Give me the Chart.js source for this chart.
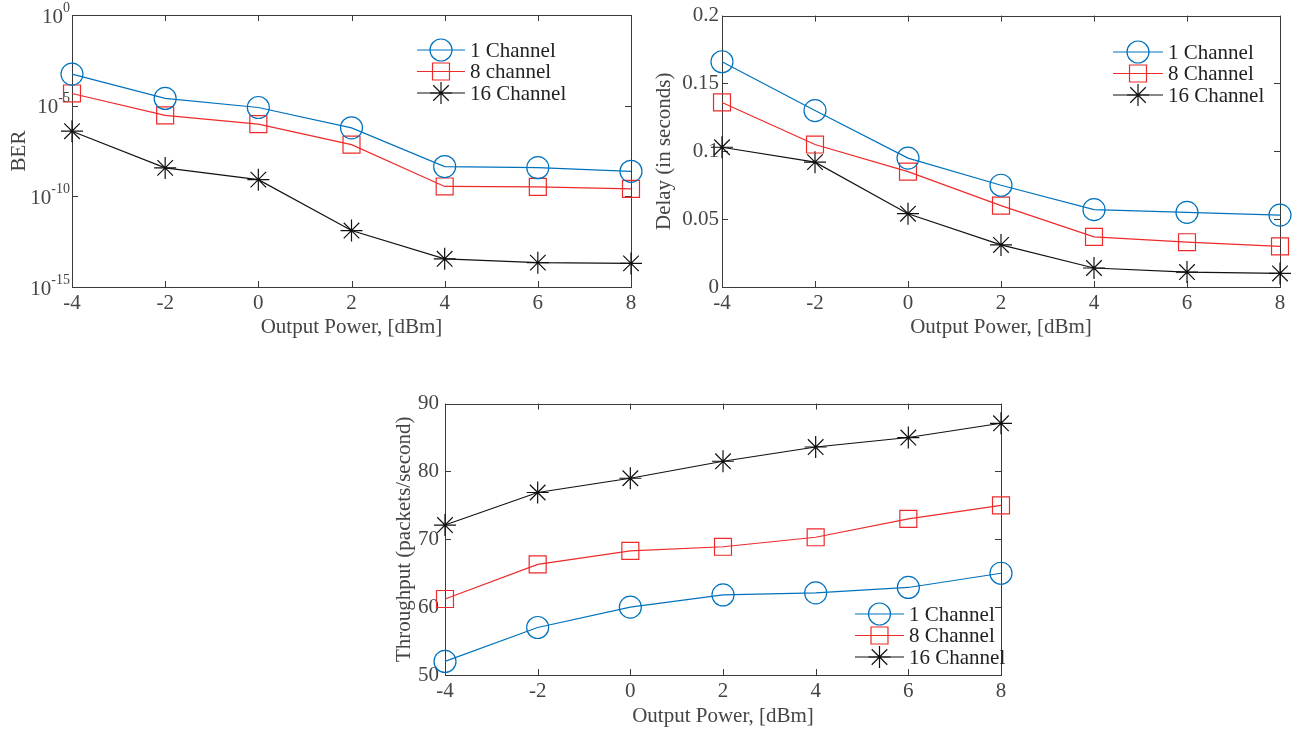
<!DOCTYPE html>
<html>
<head>
<meta charset="utf-8">
<script src="https://cdn.jsdelivr.net/npm/chart.js@4.4.1/dist/chart.umd.min.js"></script>
<style>
  html, body { margin: 0; padding: 0; background: #fff; width: 1295px; height: 729px; overflow: hidden; }
  canvas { position: absolute; }
</style>
</head>
<body>
<canvas id="berChart" width="650" height="340" style="left:0;top:0"></canvas>
<canvas id="delayChart" width="645" height="340" style="left:650px;top:0"></canvas>
<canvas id="tpChart" width="645" height="344" style="left:385px;top:385px"></canvas>
<script>
// --- data ---
const powers = [-4, -2, 0, 2, 4, 6, 8];
const xTicks = [-4, -2, 0, 2, 4, 6, 8];

const berOne = [5.5e-4, 2.5e-5, 7.9e-6, 6.0e-7, 4.4e-9, 3.8e-9, 2.4e-9];
const berEight = [4.7e-5, 2.9e-6, 9.5e-7, 7.1e-8, 3.5e-10, 3.3e-10, 2.6e-10];
const berSixteen = [3.9e-7, 3.7e-9, 8.3e-10, 1.3e-12, 3.6e-14, 2.2e-14, 2.0e-14];
const berTicks = [1, 1e-5, 1e-10, 1e-15];
const berTickExps = ['0', '-5', '-10', '-15'];

const delayOne = [0.166, 0.130, 0.095, 0.075, 0.057, 0.055, 0.053];
const delayEight = [0.136, 0.105, 0.085, 0.060, 0.037, 0.033, 0.030];
const delaySixteen = [0.103, 0.092, 0.054, 0.031, 0.014, 0.011, 0.010];
const delayTicks = [0, 0.05, 0.1, 0.15, 0.2];

const tpOne = [52, 57, 60, 61.8, 62.1, 62.9, 65];
const tpEight = [61.2, 66.3, 68.3, 68.9, 70.3, 73, 75];
const tpSixteen = [72.1, 76.9, 79, 81.5, 83.6, 85, 87.1];
const tpTicks = [50, 60, 70, 80, 90];

const FONT = "'Liberation Serif', 'DejaVu Serif', serif";
const FS = 21;
const TEXT = '#454545';
const BLUE = '#0072BD', RED = '#EE2A2A', BLACK = '#111111';

function marker(ctx, style, r, x, y) {
  ctx.beginPath();
  if (style === 'circle') {
    ctx.arc(x, y, r, 0, Math.PI * 2);
  } else if (style === 'rect') {
    const s = r * Math.SQRT1_2;
    ctx.rect(x - s, y - s, 2 * s, 2 * s);
  } else {
    for (let k = 0; k < 4; k++) {
      const a = k * Math.PI / 4;
      ctx.moveTo(x - Math.cos(a) * r, y - Math.sin(a) * r);
      ctx.lineTo(x + Math.cos(a) * r, y + Math.sin(a) * r);
    }
  }
  ctx.stroke();
}

// box + inward ticks (matlab style)
const frame = {
  id: 'frame',
  beforeDatasetsDraw(chart) {
    const { ctx, chartArea: a, scales } = chart;
    ctx.save();
    ctx.strokeStyle = '#3a3a3a';
    ctx.lineWidth = 1;
    ctx.strokeRect(Math.round(a.left) + 0.5, Math.round(a.top) + 0.5, Math.round(a.width), Math.round(a.height));
    ctx.beginPath();
    scales.x.ticks.forEach(t => {
      const px = Math.round(scales.x.getPixelForValue(t.value)) + 0.5;
      ctx.moveTo(px, a.bottom); ctx.lineTo(px, a.bottom - 6);
      ctx.moveTo(px, a.top); ctx.lineTo(px, a.top + 6);
    });
    scales.y.ticks.forEach(t => {
      const py = Math.round(scales.y.getPixelForValue(t.value)) + 0.5;
      ctx.moveTo(a.left, py); ctx.lineTo(a.left + 6, py);
      ctx.moveTo(a.right, py); ctx.lineTo(a.right - 6, py);
    });
    ctx.stroke();
    ctx.restore();
  },
  afterDraw(chart, args, opts) {
    const { ctx, chartArea: a, scales } = chart;
    ctx.save();
    // superscript labels for log axis
    if (opts.exps) {
      ctx.fillStyle = TEXT;
      ctx.textBaseline = 'middle';
      opts.values.forEach((v, i) => {
        const py = scales.y.getPixelForValue(v);
        ctx.font = '14px ' + FONT;
        const ew = ctx.measureText(opts.exps[i]).width;
        ctx.textAlign = 'left';
        const ex = a.left - 2 - ew;
        ctx.fillText(opts.exps[i], ex, py - 7);
        ctx.font = FS + 'px ' + FONT;
        ctx.textAlign = 'right';
        ctx.fillText('10', ex, py + 2);
      });
    }
    // legend inside the axes
    const lg = opts.legend;
    if (lg) {
      ctx.font = FS + 'px ' + FONT;
      ctx.textAlign = 'left';
      ctx.textBaseline = 'middle';
      chart.data.datasets.forEach((ds, i) => {
        const y = lg.y + i * lg.dy;
        ctx.strokeStyle = ds.borderColor;
        ctx.lineWidth = 1.2;
        ctx.beginPath();
        ctx.moveTo(lg.x, y); ctx.lineTo(lg.x + lg.len, y);
        ctx.stroke();
        marker(ctx, ds.pointStyle, ds.pointRadius, lg.x + lg.len / 2, y);
        ctx.fillStyle = '#222';
        ctx.fillText(ds.label, lg.x + lg.len + 5, y + 1);
      });
    }
    ctx.restore();
  }
};

function series(label, values, color, style, r) {
  return {
    label: label,
    data: powers.map((p, i) => ({ x: p, y: values[i] })),
    borderColor: color,
    backgroundColor: 'rgba(0,0,0,0)',
    borderWidth: 1.2,
    pointStyle: style,
    pointRadius: r,
    pointBorderWidth: 1.2,
    pointBorderColor: color,
    pointBackgroundColor: 'rgba(0,0,0,0)',
    tension: 0,
    clip: false
  };
}

function makeChart(id, datasets, yScale, yTitle, layout, frameOpts) {
  return new Chart(document.getElementById(id), {
    type: 'line',
    data: { datasets: datasets },
    options: {
      responsive: false,
      animation: false,
      devicePixelRatio: 1,
      layout: { padding: { top: layout.top, right: layout.right, left: 0, bottom: 0 } },
      plugins: { legend: { display: false }, tooltip: { enabled: false }, frame: frameOpts },
      scales: {
        x: {
          type: 'linear', min: -4, max: 8,
          afterBuildTicks: s => { s.ticks = xTicks.map(v => ({ value: v })); },
          afterFit: s => { s.height = layout.xh; },
          grid: { display: false, drawTicks: false },
          border: { display: false },
          ticks: { color: TEXT, font: { family: FONT, size: FS }, padding: 4, maxRotation: 0 },
          title: { display: true, text: 'Output Power, [dBm]', color: TEXT, font: { family: FONT, size: FS }, padding: { top: 0, bottom: layout.xtp } }
        },
        y: Object.assign({
          afterFit: s => { s.width = layout.yw; },
          grid: { display: false, drawTicks: false },
          border: { display: false },
          title: { display: true, text: yTitle, color: TEXT, font: { family: FONT, size: FS }, padding: { top: layout.ytp, bottom: 0 } }
        }, yScale)
      }
    },
    plugins: [frame]
  });
}

makeChart('berChart', [
  series('1 Channel', berOne, BLUE, 'circle', 11),
  series('8 channel', berEight, RED, 'rect', 12),
  series('16 Channel', berSixteen, BLACK, 'star', 11)
], {
  type: 'logarithmic', min: 1e-15, max: 1,
  afterBuildTicks: s => { s.ticks = berTicks.map(v => ({ value: v })); },
  ticks: { display: false }
}, 'BER', { top: 15, right: 19, xh: 53, yw: 72, xtp: 0, ytp: 7 },
{ exps: berTickExps, values: berTicks, legend: { x: 417, y: 50, dy: 21.5, len: 48 } });

makeChart('delayChart', [
  series('1 Channel', delayOne, BLUE, 'circle', 11),
  series('8 Channel', delayEight, RED, 'rect', 12),
  series('16 Channel', delaySixteen, BLACK, 'star', 11)
], {
  type: 'linear', min: 0, max: 0.2,
  afterBuildTicks: s => { s.ticks = delayTicks.map(v => ({ value: v })); },
  ticks: { color: TEXT, font: { family: FONT, size: FS }, padding: 3, callback: v => String(+v.toFixed(2)) }
}, 'Delay (in seconds)', { top: 15, right: 15, xh: 53, yw: 72, xtp: 0, ytp: 2 },
{ legend: { x: 463, y: 52, dy: 21.5, len: 50 } });

makeChart('tpChart', [
  series('1 Channel', tpOne, BLUE, 'circle', 11),
  series('8 Channel', tpEight, RED, 'rect', 12),
  series('16 Channel', tpSixteen, BLACK, 'star', 11)
], {
  type: 'linear', min: 50, max: 90,
  afterBuildTicks: s => { s.ticks = tpTicks.map(v => ({ value: v })); },
  ticks: { color: TEXT, font: { family: FONT, size: FS }, padding: 6 }
}, 'Throughput (packets/second)', { top: 18, right: 29, xh: 54, yw: 60, xtp: 0, ytp: 7 },
{ legend: { x: 470, y: 229, dy: 21.5, len: 49 } });
</script>
</body>
</html>
